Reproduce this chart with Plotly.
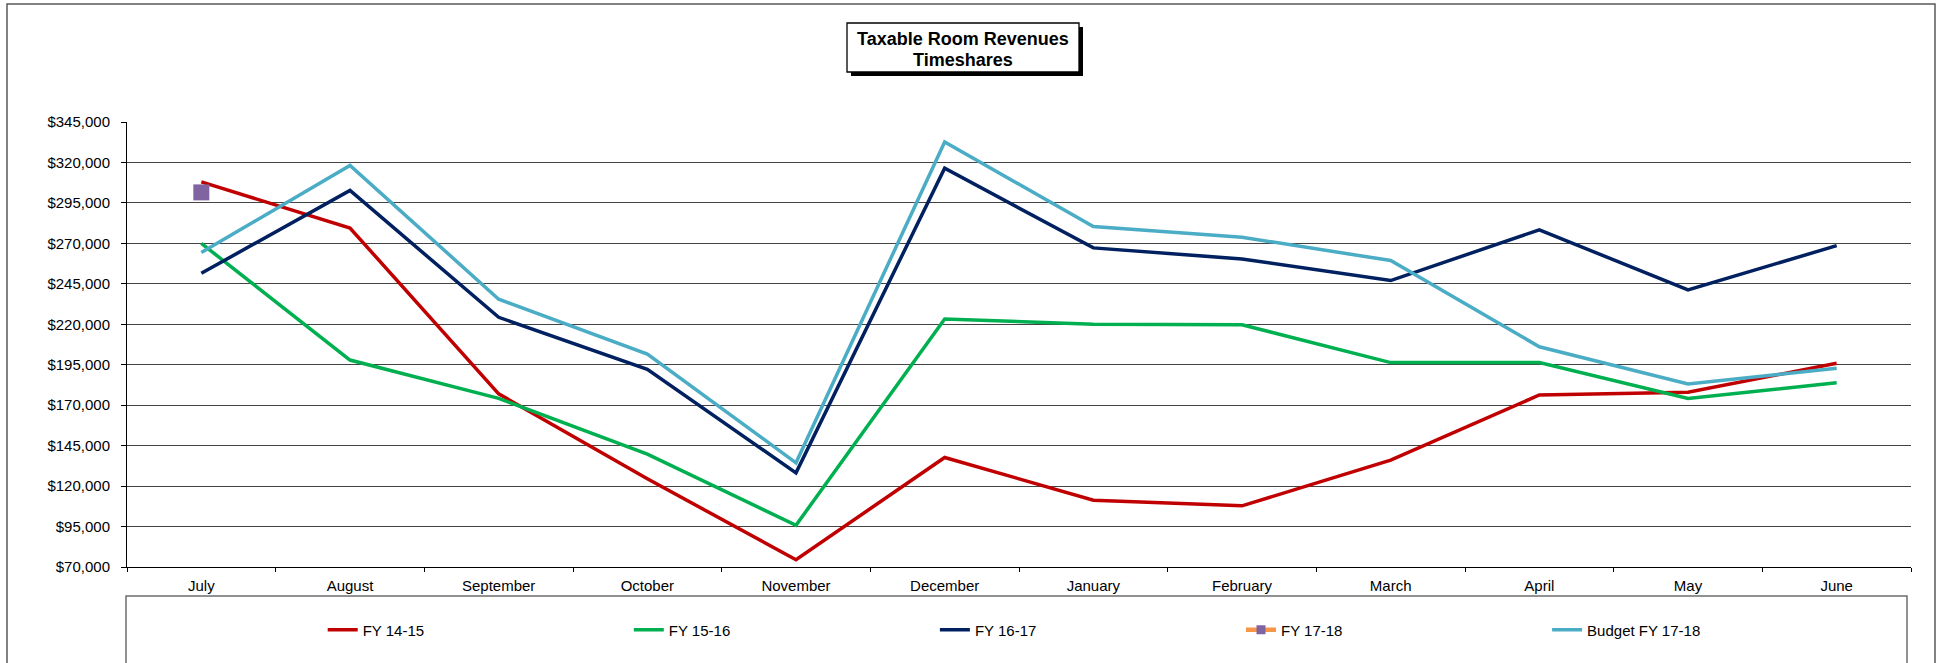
import plotly.graph_objects as go

months = ["July", "August", "September", "October", "November", "December",
          "January", "February", "March", "April", "May", "June"]
fy1415 = [308000, 279500, 177000, 124500, 74500, 137700, 111300, 107800, 136000, 176300, 178000, 195900]
fy1516 = [270000, 197900, 174200, 139700, 95800, 223300, 220000, 219700, 196300, 196300, 174200, 183900]
fy1617 = [251500, 302700, 224300, 192200, 128200, 316500, 267200, 260400, 247000, 278400, 241200, 268600]
fy1718 = [301500, None, None, None, None, None, None, None, None, None, None, None]
budget = [264300, 318100, 235500, 201600, 134400, 332600, 280400, 273800, 259400, 206100, 183100, 192800]
y_ticks = list(range(70000, 345001, 25000))

FIG_W, FIG_H = 1944, 663
L, T, W, H = 127, 122, 1784, 445
B = T + H


def px(x):
    return (x - L) / W


def py(y):
    return (B - y) / H


FONT = "Liberation Sans, Arial, sans-serif"
fig = go.Figure()

series = [
    ("FY 14-15", fy1415, "#C00000", "legend"),
    ("FY 15-16", fy1516, "#00B050", "legend2"),
    ("FY 16-17", fy1617, "#002060", "legend3"),
]
for name, vals, col, lg in series:
    fig.add_trace(go.Scatter(x=months, y=vals, name=name, mode="lines",
                             line=dict(color=col, width=3.5), legend=lg))

# FY 17-18: actual point, and legend entry
fig.add_trace(go.Scatter(x=months, y=fy1718, name="FY 17-18", mode="lines+markers",
                         line=dict(color="#F79646", width=3.5),
                         marker=dict(symbol="square", size=16, color="#8064A2"),
                         showlegend=False))
fig.add_trace(go.Scatter(x=[None], y=[None], name="FY 17-18", mode="lines+markers",
                         line=dict(color="#F79646", width=4.5),
                         marker=dict(symbol="square", size=9, color="#8064A2"),
                         legend="legend4"))
fig.add_trace(go.Scatter(x=months, y=budget, name="Budget FY 17-18", mode="lines",
                         line=dict(color="#4BACC6", width=3.5), legend="legend5"))

starts = [327.7, 633.8, 939.9, 1246.0, 1552.1]
legend_y = 630.0
legends = {}
for i, s in enumerate(starts):
    key = "legend" if i == 0 else f"legend{i+1}"
    legends[key] = dict(x=px(s - 5), xanchor="left", y=py(legend_y), yanchor="middle",
                        orientation="h", bgcolor="rgba(0,0,0,0)", borderwidth=0,
                        font=dict(family=FONT, size=15, color="#000000"),
                        itemwidth=30, tracegroupgap=0)

shapes = [
    dict(type="rect", xref="paper", yref="paper", x0=px(7), x1=px(1935), y0=py(700), y1=py(4),
         line=dict(color="#5a5a5a", width=1.5), fillcolor="rgba(0,0,0,0)", layer="below"),
    dict(type="rect", xref="paper", yref="paper", x0=px(126), x1=px(1907), y0=py(700), y1=py(596),
         line=dict(color="#6e6e6e", width=1.5), fillcolor="rgba(0,0,0,0)", layer="below"),
    dict(type="rect", xref="paper", yref="paper", x0=px(851), x1=px(1083), y0=py(76), y1=py(27),
         line=dict(width=0), fillcolor="#000000", layer="above"),
    dict(type="rect", xref="paper", yref="paper", x0=px(847), x1=px(1079), y0=py(72), y1=py(23),
         line=dict(color="#000000", width=1.3), fillcolor="#FFFFFF", layer="above"),
]

annotations = [
    dict(text="<b>Taxable Room Revenues</b>", xref="paper", yref="paper", x=px(963), y=py(38.5),
         xanchor="center", yanchor="middle", showarrow=False,
         font=dict(family=FONT, size=18, color="#000000")),
    dict(text="<b>Timeshares</b>", xref="paper", yref="paper", x=px(963), y=py(60),
         xanchor="center", yanchor="middle", showarrow=False,
         font=dict(family=FONT, size=18, color="#000000")),
]

fig.update_layout(
    width=FIG_W, height=FIG_H, autosize=False,
    margin=dict(l=L, r=FIG_W - L - W, t=T, b=FIG_H - B, pad=0),
    paper_bgcolor="#FFFFFF", plot_bgcolor="#FFFFFF",
    font=dict(family=FONT, size=15, color="#000000"),
    shapes=shapes, annotations=annotations,
    showlegend=True,
    **legends,
)
fig.update_xaxes(type="category", categoryorder="array", categoryarray=months,
                 range=[-0.5, 11.5], showgrid=False, showline=True, linecolor="#000000",
                 linewidth=1, ticks="outside", tickson="boundaries", ticklen=4,
                 tickcolor="#000000", ticklabelstandoff=5,
                 tickfont=dict(family=FONT, size=15, color="#000000"),
                 zeroline=False, fixedrange=True)
fig.update_yaxes(range=[70000, 345000], tickvals=y_ticks, tickformat="$,d",
                 showgrid=True, gridcolor="#444444", gridwidth=1, showline=True,
                 linecolor="#000000", linewidth=1, ticks="outside", ticklen=5,
                 tickcolor="#000000", ticklabelstandoff=8,
                 tickfont=dict(family=FONT, size=15, color="#000000"),
                 zeroline=False, fixedrange=True)

fig.write_html("out.html", config={"displayModeBar": False},
               post_script="document.body.style.margin='0';document.body.style.overflow='hidden';")
